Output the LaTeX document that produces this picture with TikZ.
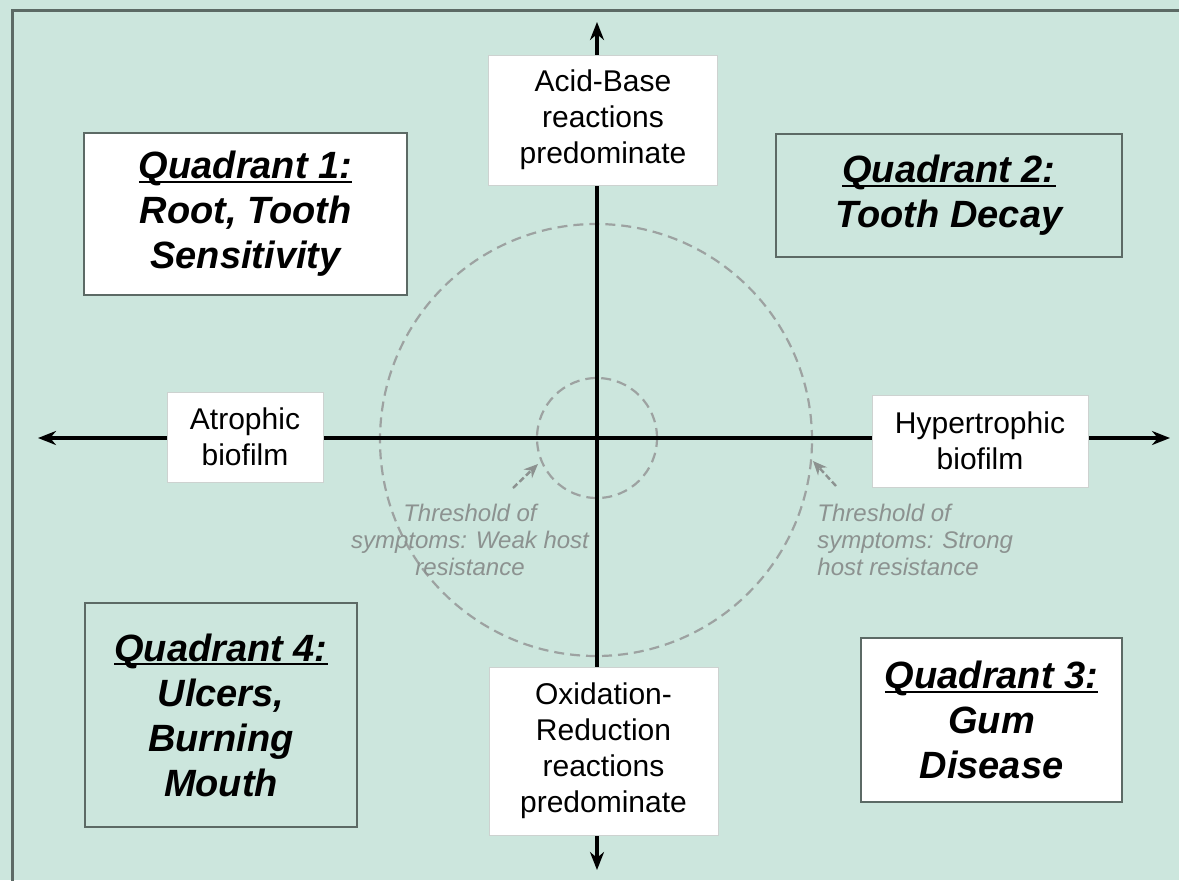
\documentclass[tikz,border=0pt]{standalone}
\usepackage{fontspec}
\setmainfont{Liberation Sans}
\usepackage{tikz}
\usetikzlibrary{arrows.meta,positioning}
\definecolor{mybg}{RGB}{204,230,221}
\definecolor{myframe}{RGB}{92,106,101}
\definecolor{mygrey}{RGB}{140,146,144}
\definecolor{myedge}{RGB}{205,210,208}
\newcommand\qline[1]{\setbox0\hbox{#1}\rlap{\rule[-2.2pt]{\wd0}{1pt}}\box0}

\begin{document}
\begin{tikzpicture}[
    x=0.5pt,y=-0.5pt,
    lbl/.style={rectangle,draw=myedge,line width=0.5pt,fill=white,inner sep=0pt,
                font=\fontsize{15}{18}\selectfont,align=center},
    quad/.style={rectangle,draw=myframe,line width=1.4pt,inner sep=0pt,
                 font=\fontsize{19}{22.5}\selectfont\bfseries\itshape,align=center},
    quadw/.style={quad,fill=white},
    thr/.style={font=\fontsize{12}{13.5}\selectfont\itshape,text=mygrey,inner sep=0pt},
    ax/.style={{Stealth[length=9pt,width=7pt]}-{Stealth[length=9pt,width=7pt]},line width=1.6pt,black},
    ring/.style={draw=mygrey!85,line width=1.1pt,dash pattern=on 5pt off 3pt},
    tharr/.style={-{Stealth[length=7pt,width=6pt]},draw=mygrey,line width=1.2pt,dash pattern=on 3pt off 1.5pt}
  ]
  \useasboundingbox (0,0) rectangle (1179,880);
  \fill[mybg] (0,0) rectangle (1179,880);
  \draw[myframe,line width=1.5pt] (1190,10) -- (12,10) -- (12,890);

  \coordinate (O) at (597,438);
  \coordinate (W) at (38,438);
  \coordinate (E) at (1170,438);
  \coordinate (N) at (597,22);
  \coordinate (S) at (597,870);

  \draw[ring] (596,440) circle[radius=108pt];
  \draw[ring] (O) circle[radius=30pt];

  \draw[ax] (W) -- (E);
  \draw[ax] (S) -- (N);

  \node[lbl,minimum width=114.5pt,minimum height=65pt] (acid) at (603,120) {Acid-Base\\reactions\\predominate};
  \node[lbl,minimum width=114.5pt,minimum height=84pt] (redox) at (603.5,751) {Oxidation-\\Reduction\\reactions\\predominate};
  \node[lbl,minimum width=78pt,minimum height=45pt] (atro) at (245,437) {Atrophic\\biofilm};
  \node[lbl,minimum width=108pt,minimum height=46pt] (hyper) at (980,441) {Hypertrophic\\biofilm};

  \node[quadw,minimum width=161.5pt,minimum height=81pt] (q1) at (245.5,214) {\qline{Quadrant 1:}\\Root, Tooth\\Sensitivity};
  \node[quad,minimum width=173pt,minimum height=61.5pt] (q2) at (949,195.5) {\qline{Quadrant 2:}\\Tooth Decay};
  \node[quadw,minimum width=130.5pt,minimum height=82pt] (q3) at (991.5,720) {\qline{Quadrant 3:}\\Gum\\Disease};
  \node[quad,minimum width=136pt,minimum height=112pt] (q4) at (221,715) {\qline{Quadrant 4:}\\Ulcers,\\Burning\\Mouth};

  \node[thr,align=center] (thrA) at (470,540) {Threshold of\\symptoms: Weak host\\resistance};
  \node[thr,align=left,anchor=west] (thrB) at (817,540) {Threshold of\\symptoms: Strong\\host resistance};

  \coordinate (tA) at (513,488);
  \coordinate (hA) at (538,464);
  \coordinate (tB) at (836,486);
  \coordinate (hB) at (813,461);
  \draw[tharr] (tA) -- (hA);
  \draw[tharr] (tB) -- (hB);
\end{tikzpicture}
\end{document}
